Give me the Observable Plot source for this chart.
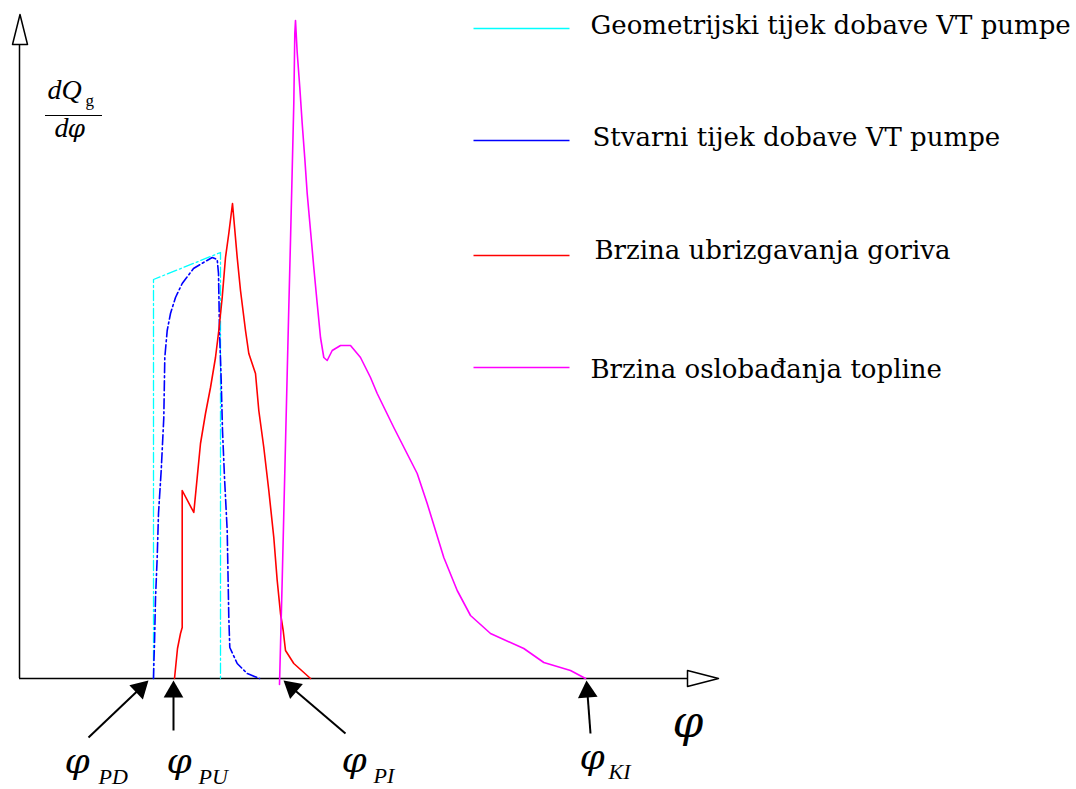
<!DOCTYPE html>
<html>
<head>
<meta charset="utf-8">
<script src="https://cdn.jsdelivr.net/npm/d3@7"></script>
<script src="https://cdn.jsdelivr.net/npm/@observablehq/plot@0.6"></script>
<style>
  html, body { margin: 0; padding: 0; background: #fff; }
  #chart svg { display: block; }
</style>
</head>
<body>
<div id="chart"></div>
<script>
// ---- Data (crank angle phi in drawing units, rate above the phi axis) ----
const geoPhi  = [153, 153, 220, 220];
const geoRate = [0, 399, 426, 0];

const realPhi  = [153, 153.5, 154, 155, 156.7, 158, 160.7, 163.3, 164.3, 166.7, 170, 175, 181.7, 193, 203, 211.7, 216.7, 218, 219, 220.7, 222, 224, 226.7, 228.3, 229.3, 236.7, 246.7, 259];
const realRate = [0, 20, 35, 80, 121, 165, 208, 261, 321, 348, 365, 381, 395, 410, 416, 421, 419, 405, 348, 298, 248, 201, 148, 61, 31, 15, 5, 0];

const injPhi  = [174, 177, 180, 181.7, 181.7, 193.3, 196.7, 200, 205, 210, 215, 218.3, 221.7, 225, 228.3, 232, 236.7, 240, 245, 248.3, 255, 258.3, 263.3, 268.3, 273.3, 276.7, 280, 282.7, 285, 293.3, 310];
const injRate = [0, 30, 45, 51, 188, 166, 201, 235, 265, 291, 321, 348, 381, 421, 445, 475, 421, 388, 348, 325, 305, 268, 231, 188, 141, 98, 65, 48, 28, 15, 0];

const heatPhi  = [279, 281.7, 283.3, 285, 286.7, 288.3, 290, 291.7, 293.3, 294.3, 295, 296.7, 299.3, 301.7, 304.3, 306.7, 310, 313.3, 316.7, 320, 323.3, 326.7, 331.7, 340, 350, 356.7, 360, 370, 376.7, 393.3, 416.7, 426.7, 443.3, 456.7, 470, 490, 523.3, 543.3, 570, 585];
const heatRate = [-6, 98, 165, 235, 305, 371, 438, 508, 575, 645, 658, 626, 591, 555, 520, 485, 448, 411, 375, 341, 321, 318, 328, 333, 333, 325, 321, 301, 285, 251, 205, 175, 121, 88, 63, 45, 30, 16, 8, 0];

const seriesNames = [
  "Geometrijski tijek dobave VT pumpe",
  "Stvarni tijek dobave VT pumpe",
  "Brzina ubrizgavanja goriva",
  "Brzina oslobađanja topline"
];
const seriesColors = ["#00ffff", "#0000ff", "#ff0000", "#ff00ff"];

// characteristic angles marked below the axis
const markNames = ["PD", "PU", "PI", "KI"];
const markPhi   = [148, 173, 283, 586];

// ---- Build tables ----
const zip = (xs, ys) => xs.map((x, i) => ({phi: x, rate: ys[i]}));
const geo  = zip(geoPhi, geoRate);
const real = zip(realPhi, realRate);
const inj  = zip(injPhi, injRate);
const heat = zip(heatPhi, heatRate);

// legend layout
const legY     = [650, 538, 423, 311];
const legTextY = [645, 533, 420, 301];
const legTextX = [590, 592, 594, 590];
const dashes   = ["10,3,2,3", "10,3,2,3", null, null];
const legend = seriesNames.map((n, i) => ({name: n, color: seriesColors[i], y: legY[i], ty: legTextY[i], tx: legTextX[i], dash: dashes[i]}));

// annotation arrows (tail -> tip)
const tails = [[88, -59], [173, -52], [345, -55], [590, -55]];
const tips  = markPhi.map(p => [p, -2]);
const HEAD_LEN = 17, HEAD_C = 11.4;
const arrows = tails.map((t, i) => {
  const [x0, y0] = t, [x1, y1] = tips[i];
  const dx = x1 - x0, dy = y1 - y0, L = Math.hypot(dx, dy);
  const ux = dx / L, uy = dy / L;
  return {
    x0, y0,
    xb: x1 - ux * (HEAD_LEN - 1), yb: y1 - uy * (HEAD_LEN - 1),
    hx: x1 - ux * HEAD_C, hy: y1 - uy * HEAD_C,
    rot: Math.atan2(dx, dy) * 180 / Math.PI
  };
});

// labels under arrows
const phiLabX = [64, 166, 341, 579];
const phiLabY = [-94, -94, -93, -90];
const subLabX = [98, 198, 373, 608];
const subLabY = [-105, -105, -104, -100];
const labels = markNames.map((n, i) => ({n, x: phiLabX[i], y: phiLabY[i], sx: subLabX[i], sy: subLabY[i]}));

const serif = "Liberation Serif";
const phiFont = "DejaVu Serif";
const legendFont = "DejaVu Serif";

const chart = Plot.plot({
  width: 1076,
  height: 789,
  margin: 0,
  x: {domain: [0, 1076], axis: null},
  y: {domain: [-111, 678], axis: null},
  marks: [
    // axes
    Plot.ruleY([0], {x1: 19, x2: 687, stroke: "#000", strokeWidth: 1.5}),
    Plot.ruleX([19], {y1: 0, y2: 634, stroke: "#000", strokeWidth: 1.5}),
    Plot.line([[687, 8], [687, -8], [718, 0], [687, 8]], {x: d => d[0], y: d => d[1], stroke: "#000", strokeWidth: 1.5, fill: "#fff"}),
    Plot.line([[12, 634], [27, 634], [19.5, 664], [12, 634]], {x: d => d[0], y: d => d[1], stroke: "#000", strokeWidth: 1.5, fill: "#fff"}),

    // curves
    Plot.line(geo,  {x: "phi", y: "rate", stroke: seriesColors[0], strokeWidth: 1.3, strokeDasharray: "10,3,2,3"}),
    Plot.line(real, {x: "phi", y: "rate", stroke: seriesColors[1], strokeWidth: 1.6, strokeDasharray: "10,3,2,3"}),
    Plot.line(inj,  {x: "phi", y: "rate", stroke: seriesColors[2], strokeWidth: 1.6}),
    Plot.line(heat, {x: "phi", y: "rate", stroke: seriesColors[3], strokeWidth: 1.6}),

    // legend
    Plot.link(legend, {x1: 473, x2: 569, y1: "y", y2: "y", stroke: "color", strokeWidth: 1.6, strokeDasharray: d => d.dash}),
    Plot.text(legend, {x: "tx", y: "ty", text: "name", textAnchor: "start", lineAnchor: "bottom", fontFamily: legendFont, fontSize: 26, fill: "#000"}),

    // y-axis label dQg / dφ
    Plot.text(["dQ"], {x: 47, y: 580, text: d => d, textAnchor: "start", lineAnchor: "bottom", fontFamily: serif, fontStyle: "italic", fontSize: 28, fill: "#000"}),
    Plot.text(["g"], {x: 85, y: 573, text: d => d, textAnchor: "start", lineAnchor: "bottom", fontFamily: serif, fontSize: 17, fill: "#000"}),
    Plot.ruleY([563], {x1: 45, x2: 102, stroke: "#000", strokeWidth: 1.2}),
    Plot.text(["d"], {x: 54, y: 542, text: d => d, textAnchor: "start", lineAnchor: "bottom", fontFamily: serif, fontStyle: "italic", fontSize: 28, fill: "#000"}),
    Plot.text(["φ"], {x: 67, y: 542, text: d => d, textAnchor: "start", lineAnchor: "bottom", fontFamily: phiFont, fontStyle: "italic", fontSize: 25, fill: "#000"}),

    // x-axis label φ
    Plot.text(["φ"], {x: 672, y: -58, text: d => d, textAnchor: "start", lineAnchor: "bottom", fontFamily: phiFont, fontStyle: "italic", fontSize: 44, fill: "#000"}),

    // annotation arrows
    Plot.link(arrows, {x1: "x0", y1: "y0", x2: "xb", y2: "yb", stroke: "#000", strokeWidth: 2}),
    Plot.dot(arrows, {x: "hx", y: "hy", symbol: "triangle", r: 7.3, rotate: "rot", fill: "#000", stroke: "none"}),
    Plot.text(labels, {x: "x", y: "y", text: () => "φ", textAnchor: "start", lineAnchor: "bottom", fontFamily: phiFont, fontStyle: "italic", fontSize: 36, fill: "#000"}),
    Plot.text(labels, {x: "sx", y: "sy", text: "n", textAnchor: "start", lineAnchor: "bottom", fontFamily: serif, fontStyle: "italic", fontSize: 22, fill: "#000"})
  ]
});

document.getElementById("chart").appendChild(chart);
</script>
</body>
</html>
